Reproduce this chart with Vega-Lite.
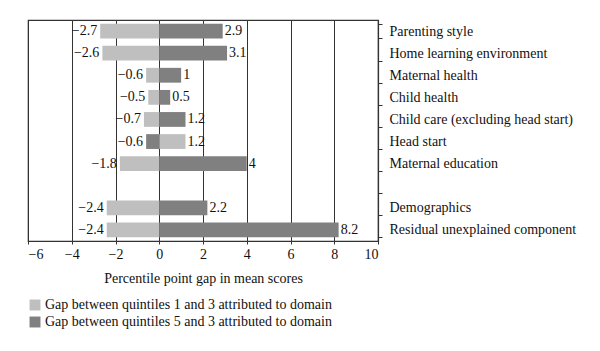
{
  "$schema": "https://vega.github.io/schema/vega-lite/v6.json",
  "width": 350,
  "height": 221,
  "autosize": {"type": "none"},
  "padding": {"left": 28, "top": 20, "right": 222, "bottom": 110},
  "background": "white",
  "config": {
    "font": "Liberation Serif",
    "view": {"stroke": "#333", "strokeWidth": 1.2},
    "axis": {"labelFont": "Liberation Serif", "titleFont": "Liberation Serif", "labelColor": "#111", "titleColor": "#111", "domainColor": "#333", "tickColor": "#333"},
    "legend": {"labelFont": "Liberation Serif", "labelColor": "#111"}
  },
  "data": {
    "values": [
      {"domain": "Parenting style", "series": "Gap between quintiles 1 and 3 attributed to domain", "value": -2.7},
      {"domain": "Parenting style", "series": "Gap between quintiles 5 and 3 attributed to domain", "value": 2.9},
      {"domain": "Home learning environment", "series": "Gap between quintiles 1 and 3 attributed to domain", "value": -2.6},
      {"domain": "Home learning environment", "series": "Gap between quintiles 5 and 3 attributed to domain", "value": 3.1},
      {"domain": "Maternal health", "series": "Gap between quintiles 1 and 3 attributed to domain", "value": -0.6},
      {"domain": "Maternal health", "series": "Gap between quintiles 5 and 3 attributed to domain", "value": 1},
      {"domain": "Child health", "series": "Gap between quintiles 1 and 3 attributed to domain", "value": -0.5},
      {"domain": "Child health", "series": "Gap between quintiles 5 and 3 attributed to domain", "value": 0.5},
      {"domain": "Child care (excluding head start)", "series": "Gap between quintiles 1 and 3 attributed to domain", "value": -0.7},
      {"domain": "Child care (excluding head start)", "series": "Gap between quintiles 5 and 3 attributed to domain", "value": 1.2},
      {"domain": "Head start", "series": "Gap between quintiles 1 and 3 attributed to domain", "value": 1.2},
      {"domain": "Head start", "series": "Gap between quintiles 5 and 3 attributed to domain", "value": -0.6},
      {"domain": "Maternal education", "series": "Gap between quintiles 1 and 3 attributed to domain", "value": -1.8},
      {"domain": "Maternal education", "series": "Gap between quintiles 5 and 3 attributed to domain", "value": 4},
      {"domain": "Demographics", "series": "Gap between quintiles 1 and 3 attributed to domain", "value": -2.4},
      {"domain": "Demographics", "series": "Gap between quintiles 5 and 3 attributed to domain", "value": 2.2},
      {"domain": "Residual unexplained component", "series": "Gap between quintiles 1 and 3 attributed to domain", "value": -2.4},
      {"domain": "Residual unexplained component", "series": "Gap between quintiles 5 and 3 attributed to domain", "value": 8.2}
    ]
  },
  "encoding": {
    "y": {
      "field": "domain",
      "type": "nominal",
      "sort": null,
      "scale": {
        "domain": ["Parenting style", "Home learning environment", "Maternal health", "Child health", "Child care (excluding head start)", "Head start", "Maternal education", " ", "Demographics", "Residual unexplained component"],
        "paddingInner": 0.33,
        "paddingOuter": 0.165
      },
      "axis": {
        "orient": "right",
        "title": null,
        "tickBand": "extent",
        "tickSize": 4,
        "labelPadding": 7,
        "labelFontSize": 14,
        "labelAlign": "left",
        "labelLimit": 300,
        "domainWidth": 1.2
      }
    },
    "x": {
      "field": "value",
      "type": "quantitative",
      "stack": null,
      "scale": {"domain": [-6, 10], "nice": false, "zero": false},
      "axis": {
        "values": [-6, -4, -2, 0, 2, 4, 6, 8, 10],
        "title": "Percentile point gap in mean scores",
        "titleFontSize": 14,
        "titleFontWeight": "normal",
        "titlePadding": 10,
        "labelFontSize": 14,
        "labelPadding": 3,
        "tickSize": 3,
        "grid": true,
        "gridColor": "#333",
        "gridOpacity": 1,
        "gridWidth": 1,
        "domainWidth": 1.2
      }
    }
  },
  "layer": [
    {
      "mark": {"type": "bar"},
      "encoding": {
        "color": {
          "field": "series",
          "type": "nominal",
          "scale": {
            "domain": ["Gap between quintiles 1 and 3 attributed to domain", "Gap between quintiles 5 and 3 attributed to domain"],
            "range": ["#bfbfbf", "#808080"]
          },
          "legend": {
            "title": null,
            "orient": "none",
            "legendX": 0,
            "legendY": 278,
            "symbolType": "square",
            "symbolSize": 120,
            "symbolStrokeWidth": 0,
            "symbolOpacity": 1,
            "labelFontSize": 14,
            "labelOffset": 3,
            "rowPadding": 3,
            "labelLimit": 400
          }
        }
      }
    },
    {
      "transform": [{"filter": "datum.value < 0"}],
      "mark": {"type": "text", "align": "right", "baseline": "middle", "dx": -3, "fontSize": 14, "color": "#111"},
      "encoding": {"text": {"field": "value", "type": "quantitative", "format": "~g"}}
    },
    {
      "transform": [{"filter": "datum.value >= 0"}],
      "mark": {"type": "text", "align": "left", "baseline": "middle", "dx": 2, "fontSize": 14, "color": "#111"},
      "encoding": {"text": {"field": "value", "type": "quantitative", "format": "~g"}}
    }
  ]
}
